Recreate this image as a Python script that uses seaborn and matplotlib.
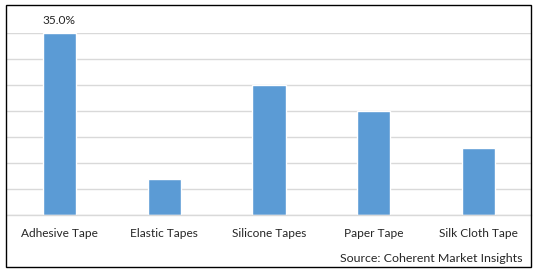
import matplotlib
matplotlib.use("Agg")
import matplotlib.pyplot as plt
import seaborn as sns
import pandas as pd
from matplotlib.patches import Rectangle

categories = ["Adhesive Tape", "Elastic Tapes", "Silicone Tapes", "Paper Tape", "Silk Cloth Tape"]
values = [35.0, 7.0, 25.0, 20.0, 13.0]
source_text = "Source: Coherent Market Insights"

sns.set_theme(style="white")
plt.rcParams['font.family'] = ['Lato', 'DejaVu Sans']

W, H = 538, 272
fig = plt.figure(figsize=(W / 100, H / 100), dpi=100)

# axes: x from 7 to 531 px, y=0 at 215.3 px and y=35 at 33.3 px
left, right = 7, 531
y0_px, y35_px = 215.3, 33.3
ax = fig.add_axes([left / W, 1 - y0_px / H, (right - left) / W, (y0_px - y35_px) / H])

df = pd.DataFrame({"cat": categories, "val": values})
sns.barplot(data=df, x="cat", y="val", color="#5b9bd5", saturation=1, width=0.315, ax=ax)
ax.set_ylim(0, 35)
ax.set_xlim(-0.5, len(categories) - 0.5)
ax.set_yticks(range(0, 36, 5))
ax.yaxis.grid(True, color="#d9d9d9", linewidth=1)
ax.set_axisbelow(True)
for s in ["top", "right", "left"]:
    ax.spines[s].set_visible(False)
ax.spines["bottom"].set_color("#d9d9d9")
ax.spines["bottom"].set_linewidth(1)
ax.set_yticklabels([])
ax.tick_params(axis="y", length=0)
ax.tick_params(axis="x", length=0, pad=9, labelsize=8.6, labelcolor="#262626")
ax.set_xlabel("")
ax.set_ylabel("")

# data label on first bar
ax.text(0, values[0] + 2.5, f"{values[0]:.1f}%", ha="center", va="center", fontsize=8.6,
        color="#262626", clip_on=False)

fig.text(523 / W, 1 - 258 / H, source_text, ha="right", va="center", fontsize=8.9, color="#262626")

fig.patches.append(Rectangle((6 / W, 1 - 267 / H), (531 - 6) / W, (267 - 5) / H,
                             transform=fig.transFigure, fill=False, edgecolor="black",
                             linewidth=1))

fig.savefig("out.png", dpi=100)
